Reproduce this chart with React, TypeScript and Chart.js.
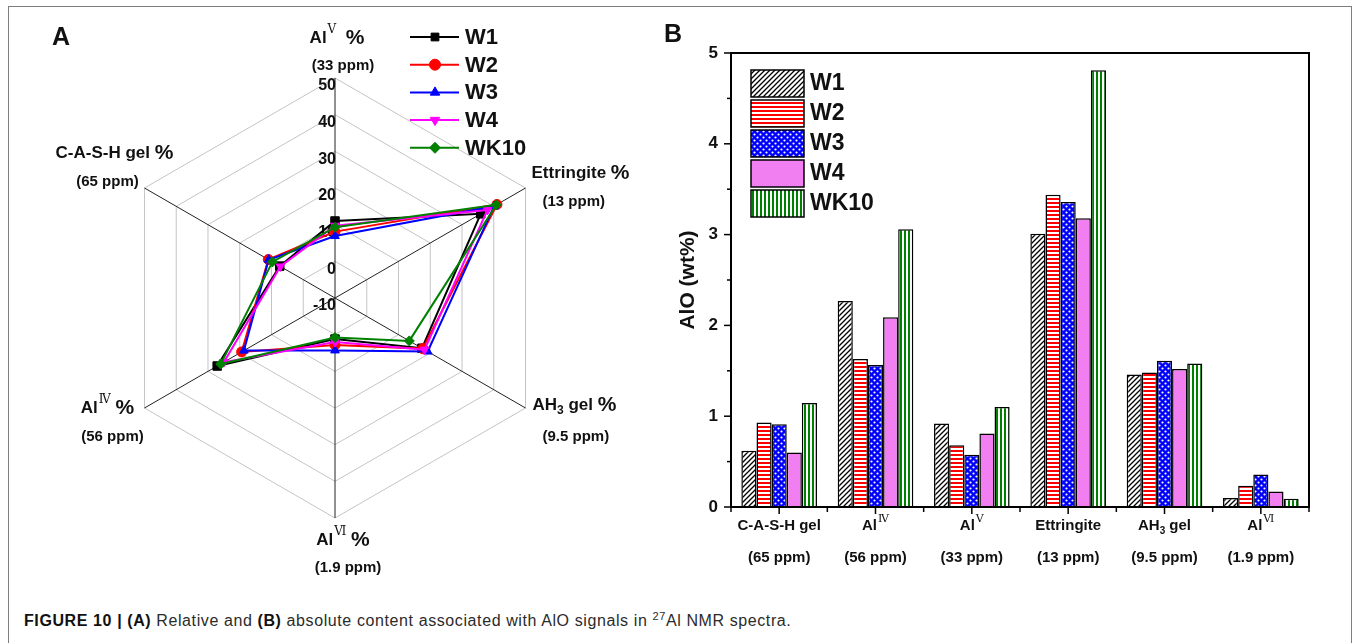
import React, { useEffect, useRef } from 'react';
import { Chart, registerables } from 'chart.js';

Chart.register(...registerables);

const SANS = '"Liberation Sans", Arial, Helvetica, sans-serif';
const SERIF = '"DejaVu Serif", "Liberation Serif", serif';
const CAPTION_FONT = '"Liberation Sans", Arial, Helvetica, sans-serif';

// ---- Samples
const SERIES_NAMES = ['W1', 'W2', 'W3', 'W4', 'WK10'];
const SERIES_COLORS = ['#000000', '#ff0000', '#0000ff', '#ff00ff', '#008000'];
const SERIES_MARKERS = ['rect', 'circle', 'triangle', 'triangle', 'rectRot'];
const SERIES_MARKER_ROTATION = [0, 0, 0, 180, 0];

// ---- Panel A: relative content (%), axes clockwise from the top
const RADAR_SIGNALS = ['AlV', 'Ettringite', 'AH3 gel', 'AlVI', 'AlIV', 'C-A-S-H gel'];
const RADAR_W1 = [11.0, 35.9, 17.4, 1.2, 27.1, 7.4];
const RADAR_W2 = [8.1, 41.0, 17.6, 2.8, 19.4, 11.0];
const RADAR_W3 = [6.9, 40.1, 19.2, 4.3, 18.7, 10.9];
const RADAR_W4 = [9.7, 38.0, 18.2, 2.0, 25.0, 7.2];
const RADAR_WK10 = [9.3, 40.8, 13.4, 0.8, 26.0, 9.7];
const RADAR_MIN = -10;
const RADAR_MAX = 50;
const RADAR_STEP = 10;
const RADAR_TICK_LABELS = [50, 40, 30, 20, 10, 0, -10];

type Seg = { text: string; kind?: 'sup' | 'sub' | 'pct' };

const RADAR_LABEL_NAMES: Seg[][] = [
  [{ text: 'Al' }, { text: 'Ⅴ', kind: 'sup' }, { text: '  ' }, { text: '%', kind: 'pct' }],
  [{ text: 'Ettringite ' }, { text: '%', kind: 'pct' }],
  [{ text: 'AH' }, { text: '3', kind: 'sub' }, { text: ' gel ' }, { text: '%', kind: 'pct' }],
  [{ text: 'Al' }, { text: 'Ⅵ', kind: 'sup' }, { text: ' ' }, { text: '%', kind: 'pct' }],
  [{ text: 'Al' }, { text: 'Ⅳ', kind: 'sup' }, { text: ' ' }, { text: '%', kind: 'pct' }],
  [{ text: 'C-A-S-H gel ' }, { text: '%', kind: 'pct' }],
];
const RADAR_LABEL_SHIFTS = ['(33 ppm)', '(13 ppm)', '(9.5 ppm)', '(1.9 ppm)', '(56 ppm)', '(65 ppm)'];

// ---- Panel B: absolute content (wt%)
const BAR_CATEGORY_NAMES: Seg[][] = [
  [{ text: 'C-A-S-H gel' }],
  [{ text: 'Al' }, { text: 'Ⅳ', kind: 'sup' }],
  [{ text: 'Al' }, { text: 'Ⅴ', kind: 'sup' }],
  [{ text: 'Ettringite' }],
  [{ text: 'AH' }, { text: '3', kind: 'sub' }, { text: ' gel' }],
  [{ text: 'Al' }, { text: 'Ⅵ', kind: 'sup' }],
];
const BAR_CATEGORIES = ['C-A-S-H gel', 'AlIV', 'AlV', 'Ettringite', 'AH3 gel', 'AlVI'];
const BAR_SHIFTS = ['(65 ppm)', '(56 ppm)', '(33 ppm)', '(13 ppm)', '(9.5 ppm)', '(1.9 ppm)'];
const BAR_W1 = [0.62, 2.27, 0.92, 3.01, 1.46, 0.10];
const BAR_W2 = [0.93, 1.63, 0.68, 3.44, 1.48, 0.235];
const BAR_W3 = [0.91, 1.565, 0.575, 3.36, 1.61, 0.357];
const BAR_W4 = [0.60, 2.09, 0.81, 3.18, 1.52, 0.17];
const BAR_WK10 = [1.146, 3.06, 1.10, 4.81, 1.58, 0.09];
const BAR_Y_TICKS = [0, 1, 2, 3, 4, 5];
const BAR_Y_TITLE = 'AlO (wt%)';

const RADAR_VALUES = [RADAR_W1, RADAR_W2, RADAR_W3, RADAR_W4, RADAR_WK10];
const BAR_VALUES = [BAR_W1, BAR_W2, BAR_W3, BAR_W4, BAR_WK10];

// Label placement around each radar vertex
const RADAR_LABEL_LAYOUT = [
  { align: 'center', dx1: 2, dy1: -40, dx2: 8, dy2: -12 },
  { align: 'left', dx1: 6, dy1: -15, dx2: 17, dy2: 14 },
  { align: 'left', dx1: 7, dy1: -3, dx2: 17, dy2: 29 },
  { align: 'center', dx1: 8, dy1: 22, dx2: 13, dy2: 50 },
  { align: 'center', dx1: -37, dy1: 0, dx2: -32, dy2: 29 },
  { align: 'center', dx1: -30, dy1: -35, dx2: -37, dy2: -6 },
];

const INK = '#111111';

function segFont(kind: string | undefined, size: number, pctSize: number) {
  if (kind === 'sup') return `${Math.round(size * 0.72)}px ${SERIF}`;
  if (kind === 'sub') return `bold ${Math.round(size * 0.68)}px ${SANS}`;
  if (kind === 'pct') return `bold ${pctSize}px ${SANS}`;
  return `bold ${size}px ${SANS}`;
}
function segDy(kind: string | undefined, size: number) {
  if (kind === 'sup') return -size * 0.45;
  if (kind === 'sub') return size * 0.32;
  return 0;
}

function drawRich(
  ctx: CanvasRenderingContext2D,
  segs: Seg[],
  x: number,
  y: number,
  align: string,
  size: number,
  pctSize: number
) {
  let w = 0;
  for (const s of segs) {
    ctx.font = segFont(s.kind, size, pctSize);
    w += ctx.measureText(s.text).width + (s.kind === 'sup' ? 1 : 0);
  }
  let cx = align === 'center' ? x - w / 2 : align === 'right' ? x - w : x;
  ctx.textAlign = 'left';
  ctx.textBaseline = 'middle';
  for (const s of segs) {
    ctx.font = segFont(s.kind, size, pctSize);
    if (s.kind === 'sup') cx += 1;
    ctx.fillText(s.text, cx, y + segDy(s.kind, size));
    cx += ctx.measureText(s.text).width;
  }
}

function drawMarker(
  ctx: CanvasRenderingContext2D,
  style: string,
  rotation: number,
  x: number,
  y: number,
  r: number,
  color: string
) {
  ctx.save();
  ctx.fillStyle = color;
  ctx.strokeStyle = color;
  ctx.lineWidth = 1;
  ctx.beginPath();
  if (style === 'rect') {
    const s = r * Math.SQRT1_2;
    ctx.rect(x - s, y - s, 2 * s, 2 * s);
  } else if (style === 'circle') {
    ctx.arc(x, y, r, 0, Math.PI * 2);
  } else if (style === 'triangle') {
    let rad = (rotation * Math.PI) / 180;
    ctx.moveTo(x + Math.sin(rad) * r, y - Math.cos(rad) * r);
    rad += (2 * Math.PI) / 3;
    ctx.lineTo(x + Math.sin(rad) * r, y - Math.cos(rad) * r);
    rad += (2 * Math.PI) / 3;
    ctx.lineTo(x + Math.sin(rad) * r, y - Math.cos(rad) * r);
    ctx.closePath();
  } else {
    ctx.moveTo(x, y - r);
    ctx.lineTo(x + r, y);
    ctx.lineTo(x, y + r);
    ctx.lineTo(x - r, y);
    ctx.closePath();
  }
  ctx.fill();
  ctx.stroke();
  ctx.restore();
}

function makeFill(kind: string): CanvasPattern | string {
  const c = document.createElement('canvas');
  const g = c.getContext('2d')!;
  if (kind === 'diag') {
    const s = 5;
    c.width = s;
    c.height = s;
    g.fillStyle = '#ffffff';
    g.fillRect(0, 0, s, s);
    g.strokeStyle = '#000000';
    g.lineWidth = 1.3;
    g.beginPath();
    g.moveTo(0, s);
    g.lineTo(s, 0);
    g.moveTo(-1, 1);
    g.lineTo(1, -1);
    g.moveTo(s - 1, s + 1);
    g.lineTo(s + 1, s - 1);
    g.stroke();
  } else if (kind === 'hstripe') {
    c.width = 4;
    c.height = 4;
    g.fillStyle = '#ffffff';
    g.fillRect(0, 0, 4, 4);
    g.fillStyle = '#ff0000';
    g.fillRect(0, 0, 4, 2);
  } else if (kind === 'dots') {
    c.width = 6;
    c.height = 6;
    g.fillStyle = '#0000ff';
    g.fillRect(0, 0, 6, 6);
    g.fillStyle = '#ffffff';
    g.beginPath();
    g.arc(1.5, 1.5, 1.1, 0, Math.PI * 2);
    g.arc(4.5, 4.5, 1.1, 0, Math.PI * 2);
    g.fill();
  } else if (kind === 'vstripe') {
    c.width = 4;
    c.height = 4;
    g.fillStyle = '#ffffff';
    g.fillRect(0, 0, 4, 4);
    g.fillStyle = '#008000';
    g.fillRect(0, 0, 2, 4);
  } else {
    return '#f27ff2';
  }
  return g.createPattern(c, 'repeat')!;
}

const BAR_FILL_KINDS = ['diag', 'hstripe', 'dots', 'solid', 'vstripe'];

const radarDecor = {
  id: 'radarDecor',
  beforeDatasetsDraw(chart: any) {
    const s = chart.scales.r;
    const ctx: CanvasRenderingContext2D = chart.ctx;
    ctx.save();
    ctx.fillStyle = INK;
    ctx.font = `bold 16px ${SANS}`;
    ctx.textAlign = 'right';
    ctx.textBaseline = 'middle';
    for (const v of RADAR_TICK_LABELS) {
      const d = s.getDistanceFromCenterForValue(v);
      ctx.fillText(String(v), s.xCenter + 1, s.yCenter - d + 8);
    }
    ctx.restore();
  },
  afterDatasetsDraw(chart: any) {
    const s = chart.scales.r;
    const ctx: CanvasRenderingContext2D = chart.ctx;
    ctx.save();
    ctx.fillStyle = INK;
    // axis names and chemical shifts
    RADAR_SIGNALS.forEach((_, i) => {
      const p = s.getPointPosition(i, s.drawingArea);
      const L = RADAR_LABEL_LAYOUT[i];
      drawRich(ctx, RADAR_LABEL_NAMES[i], p.x + L.dx1, p.y + L.dy1, L.align, 17, 21);
      ctx.font = `bold 15px ${SANS}`;
      ctx.textAlign = L.align as CanvasTextAlign;
      ctx.textBaseline = 'middle';
      ctx.fillText(RADAR_LABEL_SHIFTS[i], p.x + L.dx2, p.y + L.dy2);
    });
    // legend
    const lx = 400;
    const ly = 27;
    SERIES_NAMES.forEach((name, i) => {
      const y = ly + i * 27.7;
      ctx.strokeStyle = SERIES_COLORS[i];
      ctx.lineWidth = 2;
      ctx.beginPath();
      ctx.moveTo(lx, y);
      ctx.lineTo(lx + 49, y);
      ctx.stroke();
      drawMarker(ctx, SERIES_MARKERS[i], SERIES_MARKER_ROTATION[i], lx + 25, y, 5.5, SERIES_COLORS[i]);
      ctx.fillStyle = INK;
      ctx.font = `bold 22px ${SANS}`;
      ctx.textAlign = 'left';
      ctx.textBaseline = 'middle';
      ctx.fillText(name, lx + 55, y + 1);
    });
    // panel letter
    ctx.font = `bold 25px ${SANS}`;
    ctx.textAlign = 'left';
    ctx.textBaseline = 'alphabetic';
    ctx.fillText('A', 42, 35);
    ctx.restore();
  },
};

function line(ctx: CanvasRenderingContext2D, x1: number, y1: number, x2: number, y2: number) {
  ctx.beginPath();
  ctx.moveTo(x1, y1);
  ctx.lineTo(x2, y2);
  ctx.stroke();
}

const barDecor = {
  id: 'barDecor',
  afterDatasetsDraw(chart: any) {
    const ctx: CanvasRenderingContext2D = chart.ctx;
    const a = chart.chartArea;
    const xs = chart.scales.x;
    const ys = chart.scales.y;
    ctx.save();
    ctx.strokeStyle = '#000';
    ctx.fillStyle = INK;
    // y ticks
    ctx.lineWidth = 1.5;
    ctx.font = `bold 17px ${SANS}`;
    ctx.textAlign = 'right';
    ctx.textBaseline = 'middle';
    BAR_Y_TICKS.forEach((v, i) => {
      const py = ys.getPixelForValue(v);
      line(ctx, a.left - 7, py, a.left, py);
      ctx.fillText(String(v), a.left - 13, py);
      if (i < BAR_Y_TICKS.length - 1) {
        const pm = ys.getPixelForValue(v + 0.5);
        line(ctx, a.left - 4, pm, a.left, pm);
      }
    });
    // x ticks: centres and category boundaries
    BAR_CATEGORIES.forEach((_, i) => {
      const px = xs.getPixelForValue(i);
      line(ctx, px, a.bottom, px, a.bottom + 7);
    });
    for (let i = 0; i <= BAR_CATEGORIES.length; i++) {
      const px = xs.getPixelForValue(i - 0.5);
      line(ctx, px, a.bottom, px, a.bottom + 5);
    }
    // category labels
    BAR_CATEGORIES.forEach((_, i) => {
      const px = xs.getPixelForValue(i);
      drawRich(ctx, BAR_CATEGORY_NAMES[i], px, a.bottom + 19, 'center', 15, 15);
      ctx.font = `bold 15px ${SANS}`;
      ctx.textAlign = 'center';
      ctx.textBaseline = 'middle';
      ctx.fillText(BAR_SHIFTS[i], px, a.bottom + 51);
    });
    // frame
    ctx.lineWidth = 2;
    ctx.strokeRect(a.left, a.top, a.right - a.left, a.bottom - a.top);
    // y title
    ctx.save();
    ctx.translate(a.left - 43, (a.top + a.bottom) / 2);
    ctx.rotate(-Math.PI / 2);
    ctx.font = `bold 21px ${SANS}`;
    ctx.textAlign = 'center';
    ctx.textBaseline = 'middle';
    ctx.fillText(BAR_Y_TITLE, 0, 0);
    ctx.restore();
    // legend
    chart.data.datasets.forEach((ds: any, i: number) => {
      const bx = a.left + 20;
      const by = a.top + 17 + i * 30;
      ctx.fillStyle = ds.backgroundColor;
      ctx.fillRect(bx, by, 53, 27);
      ctx.lineWidth = 1.5;
      ctx.strokeStyle = '#000';
      ctx.strokeRect(bx, by, 53, 27);
      ctx.fillStyle = INK;
      ctx.font = `bold 23px ${SANS}`;
      ctx.textAlign = 'left';
      ctx.textBaseline = 'middle';
      ctx.fillText(ds.label, bx + 59, by + 14);
    });
    // panel letter
    ctx.font = `bold 25px ${SANS}`;
    ctx.textAlign = 'left';
    ctx.textBaseline = 'alphabetic';
    ctx.fillText('B', 4, 32);
    ctx.restore();
  },
};

export default function App() {
  const radarRef = useRef<HTMLCanvasElement>(null);
  const barRef = useRef<HTMLCanvasElement>(null);

  useEffect(() => {
    const radar = new Chart(radarRef.current!, {
      type: 'radar',
      data: {
        labels: RADAR_SIGNALS,
        datasets: SERIES_NAMES.map((name, i) => ({
          label: name,
          data: RADAR_VALUES[i],
          borderColor: SERIES_COLORS[i],
          backgroundColor: SERIES_COLORS[i],
          borderWidth: 2,
          fill: false,
          pointStyle: SERIES_MARKERS[i] as any,
          pointRotation: SERIES_MARKER_ROTATION[i],
          pointRadius: SERIES_MARKERS[i] === 'rect' ? 6 : 5,
          pointBackgroundColor: SERIES_COLORS[i],
          pointBorderColor: SERIES_COLORS[i],
          pointBorderWidth: 1,
          order: SERIES_NAMES.length - i,
        })),
      },
      options: {
        responsive: false,
        animation: false,
        devicePixelRatio: 1,
        layout: { padding: { left: 105, right: 100, top: 68, bottom: 70 } },
        plugins: { legend: { display: false }, tooltip: { enabled: false } },
        scales: {
          r: {
            min: RADAR_MIN,
            max: RADAR_MAX,
            ticks: { display: false, stepSize: RADAR_STEP },
            grid: { color: '#c4c4c4', lineWidth: 1 },
            angleLines: { color: '#222222', lineWidth: 1 },
            pointLabels: { display: false },
          },
        },
      },
      plugins: [radarDecor],
    });

    const bar = new Chart(barRef.current!, {
      type: 'bar',
      data: {
        labels: BAR_CATEGORIES,
        datasets: SERIES_NAMES.map((name, i) => ({
          label: name,
          data: BAR_VALUES[i],
          backgroundColor: makeFill(BAR_FILL_KINDS[i]) as any,
          borderColor: '#000000',
          borderWidth: 1.5,
          categoryPercentage: 0.785,
          barPercentage: 1.0,
        })),
      },
      options: {
        responsive: false,
        animation: false,
        devicePixelRatio: 1,
        layout: { padding: { left: 71, right: 45, top: 43, bottom: 83 } },
        plugins: { legend: { display: false }, tooltip: { enabled: false } },
        scales: {
          x: { display: false, offset: true },
          y: { display: false, min: 0, max: 5 },
        },
      },
      plugins: [barDecor],
    });

    return () => {
      radar.destroy();
      bar.destroy();
    };
  }, []);

  return (
    <div
      style={{
        position: 'absolute',
        left: 0,
        top: 0,
        width: 1354,
        height: 643,
        overflow: 'hidden',
        background: '#ffffff',
      }}
    >
      <div
        style={{
          position: 'absolute',
          left: 8,
          top: 6,
          width: 1344,
          height: 700,
          border: '1px solid #7d7d7d',
          boxSizing: 'border-box',
        }}
      />
      <canvas ref={radarRef} width={645} height={578} style={{ position: 'absolute', left: 10, top: 10 }} />
      <canvas ref={barRef} width={694} height={580} style={{ position: 'absolute', left: 660, top: 10 }} />
      <div
        style={{
          position: 'absolute',
          left: 24,
          top: 612,
          font: `16px ${CAPTION_FONT}`,
          letterSpacing: '0.6px',
          lineHeight: '18px',
          color: '#2b2b2b',
          whiteSpace: 'nowrap',
        }}
      >
        <b style={{ color: '#111' }}>FIGURE 10 | (A)</b> Relative and <b style={{ color: '#111' }}>(B)</b> absolute
        content associated with AlO signals in{' '}
        <span style={{ fontSize: 11, position: 'relative', top: -6 }}>27</span>Al NMR spectra.
      </div>
    </div>
  );
}
